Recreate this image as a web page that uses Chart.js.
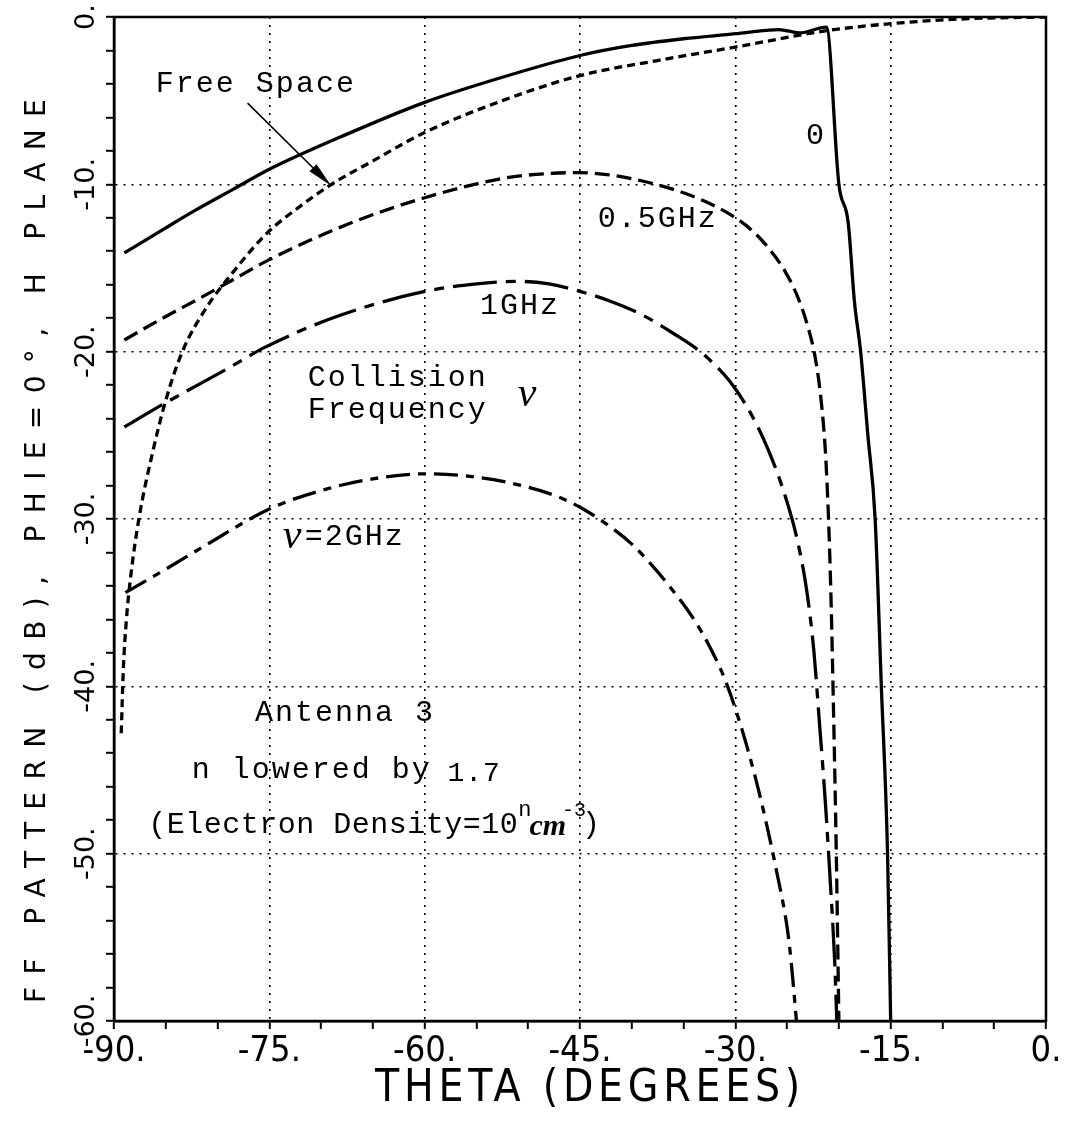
<!DOCTYPE html>
<html>
<head>
<meta charset="utf-8">
<title>FF pattern - Antenna 3</title>
<script src="https://cdn.jsdelivr.net/npm/chart.js@4.4.1/dist/chart.umd.min.js"></script>
<style>
html, body { margin: 0; padding: 0; background: #fff; }
#wrap { width: 1073px; height: 1122px; position: relative; }
</style>
</head>
<body>
<div id="wrap"><canvas id="pattern"></canvas></div>
<script>
// theta (deg) and pattern (dB)
const freeTheta = [-89.3, -89.1, -88.8, -88.4, -87.6, -86.3, -85.0, -83.4, -81.0, -78.7, -75.2, -72.0, -69.0, -65.0, -60.0, -52.5, -45.0, -37.5, -30.0, -21.0, -15.0, -7.5, 0];
const freeDb = [-42.8, -39.0, -36.0, -33.5, -30.0, -26.1, -22.9, -20.0, -17.3, -15.4, -12.9, -11.3, -10.0, -8.6, -6.9, -5.0, -3.5, -2.6, -1.8, -0.8, -0.4, -0.1, 0];

const nu0Theta = [-89.0, -85.0, -82.0, -78.5, -75.0, -67.5, -60.0, -52.5, -45.0, -40.0, -35.0, -30.0, -27.0, -25.8, -23.8, -21.2, -20.0, -19.1, -18.5, -17.9, -17.2, -16.5, -15.9, -15.3, -15.0];
const nu0Db = [-14.1, -12.6, -11.5, -10.3, -9.1, -7.0, -5.1, -3.6, -2.3, -1.7, -1.3, -1.0, -0.8, -0.75, -0.95, -0.6, -10.0, -12.3, -17.0, -20.0, -25.0, -30.0, -40.0, -50.0, -60.0];

const nu05Theta = [-89.0, -85.0, -82.0, -78.5, -75.0, -67.5, -60.0, -52.5, -48.0, -45.0, -42.0, -39.0, -36.0, -33.0, -30.5, -28.5, -26.8, -25.2, -24.0, -23.0, -22.3, -21.7, -21.3, -21.0, -20.75, -20.5, -20.25, -20.0];
const nu05Db = [-19.3, -17.9, -16.9, -15.7, -14.5, -12.4, -10.8, -9.65, -9.35, -9.3, -9.45, -9.8, -10.3, -11.0, -11.8, -12.7, -13.8, -15.2, -16.7, -18.5, -20.3, -23.0, -26.0, -30.0, -35.0, -42.0, -50.0, -60.0];

const nu1Theta = [-89.0, -86.0, -83.4, -79.0, -75.3, -68.5, -60.0, -55.0, -51.0, -48.0, -45.0, -42.0, -39.0, -36.0, -33.0, -30.5, -28.5, -26.8, -25.2, -24.0, -23.1, -22.4, -21.9, -21.3, -20.8, -20.4, -20.2];
const nu1Db = [-24.5, -23.4, -22.5, -21.0, -19.7, -17.9, -16.4, -15.95, -15.8, -15.95, -16.4, -17.0, -17.8, -18.9, -20.2, -21.8, -23.7, -25.9, -28.6, -31.3, -34.3, -38.0, -42.0, -47.0, -52.0, -56.5, -60.0];

const nu2Theta = [-88.9, -85.0, -81.5, -75.0, -70.0, -65.0, -60.0, -55.0, -50.0, -47.0, -44.7, -42.0, -40.0, -38.0, -36.0, -34.0, -32.5, -31.0, -29.5, -28.0, -27.0, -26.0, -25.0, -24.6, -24.1];
const nu2Db = [-34.4, -33.0, -31.7, -29.4, -28.3, -27.6, -27.3, -27.5, -28.1, -28.7, -29.4, -30.5, -31.5, -32.8, -34.3, -36.0, -37.6, -39.6, -42.3, -45.6, -48.2, -51.1, -54.4, -56.5, -60.0];

const xTickValues = [-90, -75, -60, -45, -30, -15, 0];
const xTickLabels = ['-90.', '-75.', '-60.', '-45.', '-30.', '-15.', '0.'];
const yTickValues = [0, -10, -20, -30, -40, -50, -60];
const yTickLabels = ['0.', '-10.', '-20.', '-30.', '-40.', '-50.', '-60.'];

const mono = '"Liberation Mono", "DejaVu Sans Mono", monospace';
const narrow = '"DejaVu Sans Condensed", "Liberation Sans Narrow", "DejaVu Sans", sans-serif';
const sans = '"DejaVu Sans", sans-serif';
const serif = '"Liberation Serif", "DejaVu Serif", serif';

// text labels placed in data coordinates
const notes = [
  { text: 'Free Space', x: -76.3, y: -4.0, align: 'center' },
  { text: '0', x: -22.2, y: -7.1, align: 'center' },
  { text: '0.5GHz', x: -37.5, y: -12.1, align: 'center' },
  { text: '1GHz', x: -50.8, y: -17.3, align: 'center' },
  { text: 'Collision', x: -71.3, y: -21.6, align: 'left' },
  { text: 'Frequency', x: -71.3, y: -23.5, align: 'left' },
  { text: 'Antenna 3', x: -67.7, y: -41.6, align: 'center' },
  { text: 'n lowered by', x: -70.9, y: -45.0, align: 'center' }
];
const arrowFrom = { x: -77.1, y: -5.15 };
const arrowTo = { x: -69.0, y: -10.1 };

function pts(xs, ys) {
  return xs.map((x, i) => ({ x: x, y: ys[i] }));
}

function line(label, xs, ys, dash) {
  return {
    label: label,
    data: pts(xs, ys),
    showLine: true,
    borderColor: '#000',
    borderWidth: 3.3,
    borderDash: dash,
    borderCapStyle: 'butt',
    borderJoinStyle: 'round',
    pointRadius: 0,
    fill: false,
    cubicInterpolationMode: 'monotone'
  };
}

function spaced(ctx, text, x, y, width) {
  ctx.letterSpacing = '0px';
  const w = ctx.measureText(text).width;
  ctx.letterSpacing = ((width - w) / text.length) + 'px';
  ctx.fillText(text, x, y);
  ctx.letterSpacing = '0px';
}

const paper = {
  id: 'paper',
  beforeDraw(chart) {
    const ctx = chart.ctx;
    ctx.save();
    ctx.fillStyle = '#fff';
    ctx.fillRect(0, 0, chart.width, chart.height);
    ctx.restore();
  },
  afterDraw(chart) {
    const ctx = chart.ctx;
    const a = chart.chartArea;
    const sx = chart.scales.x, sy = chart.scales.y;
    ctx.save();
    ctx.strokeStyle = '#000';
    ctx.lineWidth = 2.5;
    ctx.strokeRect(a.left, a.top, a.right - a.left, a.bottom - a.top);

    ctx.fillStyle = '#000';
    // x tick labels
    ctx.font = '36px ' + narrow;
    ctx.textAlign = 'center';
    ctx.textBaseline = 'middle';
    xTickValues.forEach((v, i) => {
      ctx.fillText(xTickLabels[i], sx.getPixelForValue(v), a.bottom + 31);
    });
    // y tick labels, rotated
    ctx.font = '27px ' + sans;
    yTickValues.forEach((v, i) => {
      ctx.save();
      ctx.translate(a.left - 27, sy.getPixelForValue(v));
      ctx.rotate(-Math.PI / 2);
      ctx.fillText(yTickLabels[i], 0, 0);
      ctx.restore();
    });
    // axis titles
    ctx.font = '44px ' + narrow;
    spaced(ctx, 'THETA (DEGREES)', 590, 1090, 430);
    ctx.save();
    ctx.translate(38, 545);
    ctx.rotate(-Math.PI / 2);
    ctx.font = '28px ' + sans;
    spaced(ctx, 'FF PATTERN (dB), PHIE=0°, H PLANE', 0, 0, 916);
    ctx.restore();

    // annotations
    ctx.font = '30px ' + mono;
    notes.forEach(n => {
      ctx.textAlign = n.align;
      ctx.letterSpacing = '2px';
      ctx.fillText(n.text, sx.getPixelForValue(n.x), sy.getPixelForValue(n.y));
    });
    ctx.letterSpacing = '0px';
    ctx.textAlign = 'left';

    ctx.font = 'italic 42px ' + serif;
    ctx.fillText('ν', sx.getPixelForValue(-51.0), sy.getPixelForValue(-22.6));
    const nx = sx.getPixelForValue(-73.7), ny = sy.getPixelForValue(-31.1);
    ctx.fillText('ν', nx, ny);
    ctx.font = '30px ' + mono;
    ctx.letterSpacing = '2px';
    ctx.fillText('=2GHz', nx + 22, ny);

    ctx.font = '28px ' + mono;
    ctx.letterSpacing = '1px';
    ctx.fillText('1.7', sx.getPixelForValue(-57.8), sy.getPixelForValue(-45.2));

    let ex = sx.getPixelForValue(-86.7);
    const ey = sy.getPixelForValue(-48.3);
    ctx.font = '30px ' + mono;
    ctx.letterSpacing = '0.5px';
    ctx.fillText('(Electron Density=10', ex, ey);
    ex += ctx.measureText('(Electron Density=10').width;
    ctx.letterSpacing = '0px';
    ctx.font = '22px ' + mono;
    ctx.fillText('n', ex, ey - 15);
    ex += ctx.measureText('n').width - 2;
    ctx.font = 'italic bold 30px ' + serif;
    ctx.fillText('cm', ex, ey + 2);
    ex += ctx.measureText('cm').width - 4;
    ctx.font = '20px ' + mono;
    ctx.fillText('-3', ex, ey - 15);
    ex += ctx.measureText('-3').width - 4;
    ctx.font = '30px ' + mono;
    ctx.fillText(')', ex, ey);

    // arrow to the free-space curve
    const x1 = sx.getPixelForValue(arrowFrom.x), y1 = sy.getPixelForValue(arrowFrom.y);
    const x2 = sx.getPixelForValue(arrowTo.x), y2 = sy.getPixelForValue(arrowTo.y);
    const ang = Math.atan2(y2 - y1, x2 - x1);
    ctx.lineWidth = 1.6;
    ctx.beginPath();
    ctx.moveTo(x1, y1);
    ctx.lineTo(x2 - 20 * Math.cos(ang), y2 - 20 * Math.sin(ang));
    ctx.stroke();
    ctx.beginPath();
    ctx.moveTo(x2, y2);
    ctx.lineTo(x2 - 26 * Math.cos(ang) + 5 * Math.sin(ang), y2 - 26 * Math.sin(ang) - 5 * Math.cos(ang));
    ctx.lineTo(x2 - 26 * Math.cos(ang) - 5 * Math.sin(ang), y2 - 26 * Math.sin(ang) + 5 * Math.cos(ang));
    ctx.closePath();
    ctx.fill();
    ctx.restore();
  }
};

const ctx = document.getElementById('pattern');
new Chart(ctx, {
  type: 'scatter',
  data: {
    datasets: [
      line('Free Space', freeTheta, freeDb, [8, 5]),
      line('0', nu0Theta, nu0Db, []),
      line('0.5GHz', nu05Theta, nu05Db, [15, 7]),
      line('1GHz', nu1Theta, nu1Db, [44, 9, 10, 9]),
      line('2GHz', nu2Theta, nu2Db, [24, 8, 8, 8])
    ]
  },
  options: {
    responsive: true,
    maintainAspectRatio: false,
    animation: false,
    layout: { padding: { top: 17, right: 27, left: 0, bottom: 0 } },
    plugins: { legend: { display: false }, tooltip: { enabled: false } },
    scales: {
      x: {
        type: 'linear',
        min: -90,
        max: 0,
        ticks: { stepSize: 5, display: false },
        grid: {
          color: c => (c.tick && c.tick.value % 15 === 0) ? '#000' : 'rgba(0,0,0,0)',
          lineWidth: 1.6,
          tickColor: '#000',
          tickLength: 8,
          tickWidth: 2,
          tickBorderDash: []
        },
        border: { display: true, color: '#000', width: 2.5, dash: [2, 6] },
        afterFit: s => { s.height = 101; }
      },
      y: {
        type: 'linear',
        min: -60,
        max: 0,
        ticks: { stepSize: 2, display: false },
        grid: {
          color: c => (c.tick && c.tick.value % 10 === 0) ? '#000' : 'rgba(0,0,0,0)',
          lineWidth: 1.6,
          tickColor: '#000',
          tickLength: 8,
          tickWidth: 2,
          tickBorderDash: []
        },
        border: { display: true, color: '#000', width: 2.5, dash: [2, 6] },
        afterFit: s => { s.width = 114; }
      }
    }
  },
  plugins: [paper]
});
</script>
</body>
</html>
